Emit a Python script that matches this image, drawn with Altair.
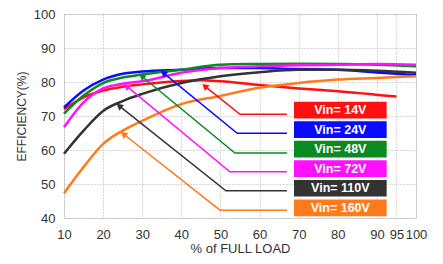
import math
import altair as alt
import pandas as pd

# ---- data ----
series = ["Vin= 14V", "Vin= 24V", "Vin= 48V", "Vin= 72V", "Vin= 110V", "Vin= 160V"]
line_colors = ["#ff1010", "#0a0aff", "#0a8a20", "#ff10ff", "#333333", "#ff7a1a"]
box_colors = ["#ff0000", "#0000ff", "#008a1a", "#ff00ff", "#333333", "#ff6600"]

load_14 = [10, 15, 20, 25, 30, 40, 45, 50, 60, 70, 80, 95]
eff_14 = [72.0, 75.5, 77.5, 78.6, 79.3, 80.3, 80.5, 80.2, 79.1, 78.1, 77.3, 75.7]

load = [10, 15, 20, 25, 30, 40, 50, 60, 70, 80, 90, 100]
eff_24 = [72.5, 77.5, 80.7, 82.4, 83.1, 83.6, 84.1, 84.1, 83.8, 83.6, 82.8, 82.0]
eff_48 = [70.7, 76.0, 79.7, 81.3, 82.2, 83.6, 85.1, 85.3, 85.4, 85.3, 85.1, 84.6]
eff_72 = [66.7, 74.0, 78.1, 79.5, 80.2, 82.7, 84.1, 84.6, 84.9, 85.1, 85.3, 85.1]
eff_110 = [58.9, 65.7, 71.5, 74.4, 76.5, 79.7, 81.7, 82.9, 83.6, 83.6, 83.3, 82.7]
eff_160 = [47.3, 55.0, 61.8, 65.7, 68.6, 73.5, 75.9, 78.3, 79.7, 80.7, 81.2, 81.7]

# annotation arrows: horizontal level, bend x, tip (x, y)
arrow_level = [70.5, 64.9, 59.1, 53.6, 48.0, 42.3]
arrow_bend = [55.0, 54.3, 53.7, 52.4, 51.4, 49.9]
arrow_tip_x = [46.0, 35.4, 29.9, 26.0, 24.1, 25.2]
arrow_tip_y = [78.8, 82.7, 81.7, 78.8, 73.0, 64.7]
arrow_start = 67.0

x_ticks = [10, 20, 30, 40, 50, 60, 70, 80, 90, 95, 100]
y_ticks = [40, 50, 60, 70, 80, 90, 100]

W, H = 352, 204
X_DOM, Y_DOM = [10, 100], [40, 100]

rows = []
curves = [(load_14, eff_14), (load, eff_24), (load, eff_48), (load, eff_72), (load, eff_110), (load, eff_160)]
for s, (xs_, ys_) in zip(series, curves):
    for i, (a, b) in enumerate(zip(xs_, ys_)):
        rows.append({"s": s, "x": a, "y": b, "o": i})
df = pd.DataFrame(rows)

arows, heads = [], []
px = W / (X_DOM[1] - X_DOM[0])
py = H / (Y_DOM[1] - Y_DOM[0])
for i, s in enumerate(series):
    pts = [(arrow_start, arrow_level[i]), (arrow_bend[i], arrow_level[i]), (arrow_tip_x[i], arrow_tip_y[i])]
    for k, (a, b) in enumerate(pts):
        arows.append({"s": s, "x": a, "y": b, "o": k})
    dxs = (arrow_tip_x[i] - arrow_bend[i]) * px
    dys = -(arrow_tip_y[i] - arrow_level[i]) * py
    ang = math.degrees(math.atan2(dxs, -dys)) % 360
    heads.append({"s": s, "x": arrow_tip_x[i], "y": arrow_tip_y[i], "ang": ang})
adf = pd.DataFrame(arows)
hdf = pd.DataFrame(heads)

box_rows = []
for i, s in enumerate(series):
    top = 74.2 - i * 5.75
    box_rows.append({"s": s, "x": 68.8, "x2": 92.5, "y": top, "y2": top - 4.9, "ym": top - 2.45, "xm": 80.65})
bdf = pd.DataFrame(box_rows)

xs = alt.Scale(domain=X_DOM, nice=False, zero=False)
ys = alt.Scale(domain=Y_DOM, nice=False, zero=False)
col = alt.Scale(domain=series, range=line_colors)
bcol = alt.Scale(domain=series, range=box_colors)

xaxis = alt.Axis(values=x_ticks, grid=True, gridDash=[1, 2], gridColor="#b0b0b0",
                 ticks=False, domain=False, labelPadding=10, labelFontSize=13,
                 labelColor="#333333", titleFontSize=13, titleColor="#333333",
                 titleFontWeight="normal", titlePadding=1, labelFlush=False,
                 labelOverlap=False, format="d")
yaxis = alt.Axis(values=y_ticks, grid=True, gridDash=[1, 2], gridColor="#b0b0b0",
                 ticks=False, domain=False, labelPadding=9, labelFontSize=13,
                 labelColor="#333333", titleFontSize=12, titleColor="#333333",
                 titleFontWeight="normal", titlePadding=5, labelOverlap=False,
                 labelFlush=False)


def X(f):
    return alt.X(f, scale=xs, axis=xaxis, title="% of FULL LOAD")


def Y(f):
    return alt.Y(f, scale=ys, axis=yaxis, title="EFFICIENCY(%)")


base_lines = alt.Chart(df).mark_line(strokeWidth=2.5, interpolate="monotone").encode(
    x=X("x:Q"), y=Y("y:Q"), color=alt.Color("s:N", scale=col, legend=None),
    order="o:Q", detail="s:N")

arrows = alt.Chart(adf).mark_line(strokeWidth=1.5).encode(
    x=X("x:Q"), y=Y("y:Q"),
    color=alt.Color("s:N", scale=col, legend=None), order="o:Q", detail="s:N")

tips = alt.Chart(hdf).mark_point(shape="triangle-up", filled=True, size=55, opacity=1).encode(
    x=X("x:Q"), y=Y("y:Q"),
    color=alt.Color("s:N", scale=col, legend=None),
    angle=alt.Angle("ang:Q", scale=None))

boxes = alt.Chart(bdf).mark_rect().encode(
    x=X("x:Q"), x2="x2:Q", y=Y("y:Q"), y2="y2:Q",
    color=alt.Color("s:N", scale=bcol, legend=None))

labels = alt.Chart(bdf).mark_text(color="white", fontWeight="bold", fontSize=12.5,
                                  font="Liberation Sans").encode(
    x=X("xm:Q"), y=Y("ym:Q"), text="s:N")

chart = alt.layer(base_lines, arrows, tips, boxes, labels).properties(
    width=W, height=H,
    autosize=alt.AutoSizeParams(type="none"),
    padding={"left": 56, "top": 6, "right": 19, "bottom": 38},
).configure_view(stroke="#888888", strokeWidth=1.5).configure_axis(
    labelOverlap=False).configure(font="Liberation Sans")

chart.save("out.html", embed_options={"renderer": "svg", "actions": False})
